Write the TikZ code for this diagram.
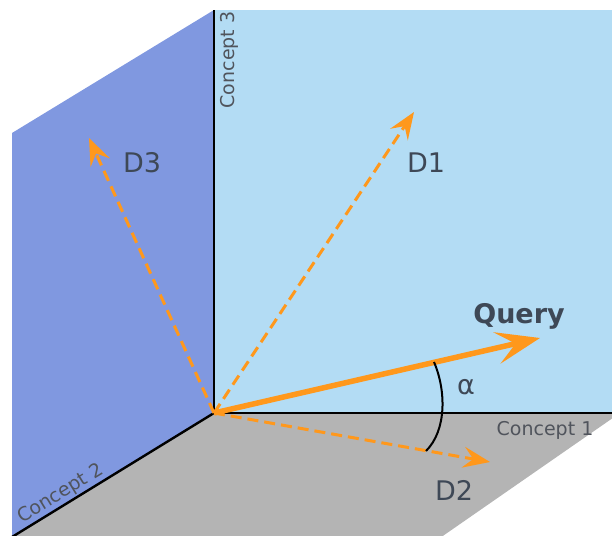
\documentclass[tikz,border=0pt]{standalone}
\usepackage{fontspec}
\setmainfont{DejaVu Sans}
\usetikzlibrary{arrows.meta,calc}
\definecolor{backblue}{RGB}{179,220,244}
\definecolor{leftblue}{RGB}{128,152,224}
\definecolor{floorgray}{RGB}{180,180,180}
\definecolor{vecorange}{RGB}{255,152,28}
\definecolor{labeltext}{RGB}{62,72,86}
\definecolor{axistext}{RGB}{80,84,92}
\begin{document}
\begin{tikzpicture}[x=1pt,y=-1pt,
  axisline/.style={line width=2.4pt, black},
  docvec/.style={vecorange, line width=3pt, dash pattern=on 11pt off 6pt, -{Stealth[length=27pt,width=21pt,inset=10pt]}},
  queryvec/.style={vecorange, line width=5.5pt, -{Stealth[length=44pt,width=32pt,inset=19pt]}},
  doclabel/.style={font=\fontsize{27}{32}\selectfont, text=labeltext, anchor=base, inner sep=0pt},
  querylabel/.style={font=\fontsize{27}{32}\selectfont\bfseries, text=labeltext, anchor=base, inner sep=0pt},
  axislabel/.style={font=\fontsize{19}{22}\selectfont, text=axistext, inner sep=0pt},
]
\useasboundingbox (0,0) rectangle (612,535);
\clip (0,0) rectangle (612,535);
% corner and axis ends
\coordinate (O) at (214,413);
\coordinate (C3end) at (214,10);
\coordinate (C1end) at (640,413);
\coordinate (C2end) at (12,537);
% walls
\fill[backblue] (C3end) -- (640,10) -- (640,413) -- (O) -- cycle;
\fill[leftblue] (C3end) -- (12,133) -- (12,540) -- (C2end) -- (O) -- cycle;
\fill[floorgray] (O) -- (620,413) -- (437,540) -- (12,540) -- (C2end) -- cycle;
% axes
\draw[axisline] (O) -- (C3end);
\draw[axisline] (O) -- (C1end);
\draw[axisline] (O) -- (C2end);
% vector ends
\coordinate (D1tip) at (414,112);
\coordinate (D2tip) at (490,462);
\coordinate (D3tip) at (89,138);
\coordinate (Qtip) at (540,338);
% vectors
\draw[docvec] (O) -- (D1tip);
\draw[docvec] (O) -- (D3tip);
\draw[docvec] (O) -- (D2tip);
\draw[queryvec] (O) -- (Qtip);
% angle arc
\coordinate (AQ) at (434,362);
\coordinate (AD) at (426,451);
\draw[black, line width=2pt] (AQ) .. controls (446,390) and (447,430) .. (AD);
% labels
\node[doclabel] (lD1) at (426,172) {D1};
\node[doclabel] (lD3) at (142,172) {D3};
\node[doclabel] (lD2) at (454,500) {D2};
\node[querylabel] (lQ) at (519,323) {Query};
\node[doclabel] (lalpha) at (466,394) {α};
\node[axislabel, anchor=base] (lC1) at (545,435) {Concept 1};
\node[axislabel, anchor=base, rotate=90] (lC3) at (234,60) {Concept 3};
\node[axislabel, anchor=south, inner sep=2pt, rotate=31.5] (lC2) at ($(O)!0.73!(C2end)$) {Concept 2};
\end{tikzpicture}
\end{document}
